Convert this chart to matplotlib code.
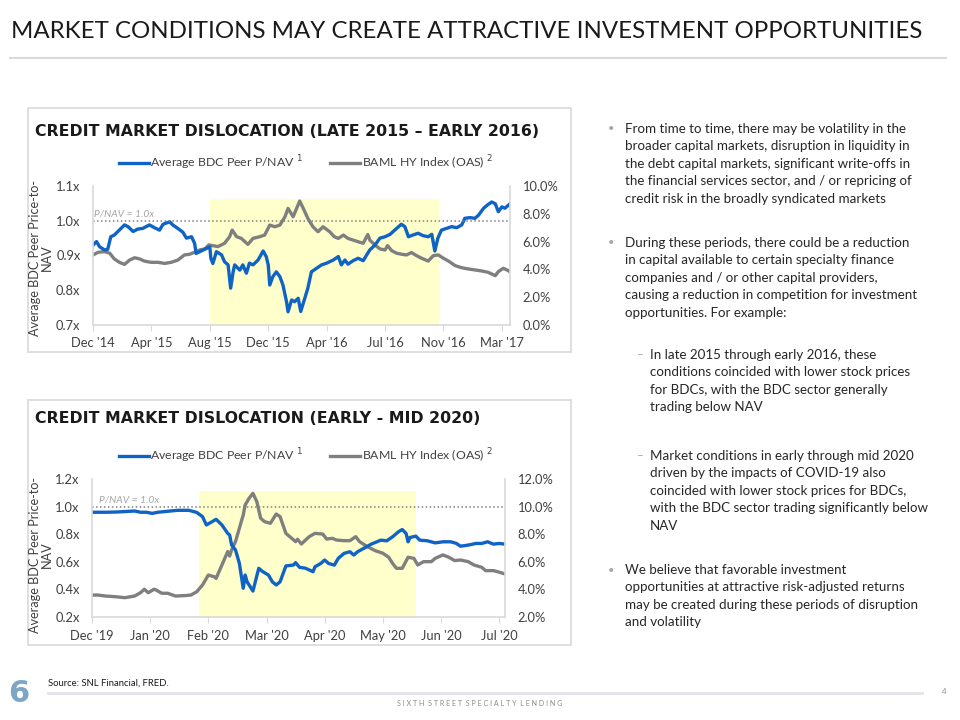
import matplotlib
matplotlib.use("Agg")
import matplotlib.pyplot as plt
import pandas as pd
from matplotlib import font_manager
from matplotlib.lines import Line2D
from matplotlib.patches import Rectangle

names = {f.name for f in font_manager.fontManager.ttflist}
if "Liberation Sans Narrow" in names:
    FONT, K = "Liberation Sans Narrow", 1.0
else:
    FONT, K = "Lato", 0.86
plt.rcParams["font.family"] = [FONT, "DejaVu Sans"]

# ---------------- data: chart 1 (late 2015 - early 2016) ----------------
bdc1_dates = [
    "2014-12-31", "2015-01-07", "2015-01-13", "2015-01-23", "2015-01-29", "2015-02-04",
    "2015-02-11", "2015-02-18", "2015-03-03", "2015-03-10", "2015-03-20", "2015-03-29",
    "2015-04-08", "2015-04-21", "2015-05-01", "2015-05-11", "2015-05-18", "2015-05-31",
    "2015-06-06", "2015-06-16", "2015-06-26", "2015-07-03", "2015-07-13", "2015-07-19",
    "2015-07-22", "2015-07-29", "2015-08-08", "2015-08-18", "2015-08-20", "2015-08-24",
    "2015-08-31", "2015-09-10", "2015-09-16", "2015-09-23", "2015-09-28", "2015-10-03",
    "2015-10-06", "2015-10-16", "2015-10-22", "2015-10-29", "2015-11-04", "2015-11-11",
    "2015-11-21", "2015-12-01", "2015-12-07", "2015-12-11", "2015-12-14", "2015-12-20",
    "2015-12-27", "2016-01-03", "2016-01-09", "2016-01-16", "2016-01-19", "2016-01-26",
    "2016-02-01", "2016-02-08", "2016-02-13", "2016-02-21", "2016-02-27", "2016-03-05",
    "2016-03-15", "2016-03-25", "2016-04-04", "2016-04-17", "2016-04-27", "2016-05-03",
    "2016-05-10", "2016-05-16", "2016-05-26", "2016-06-05", "2016-06-15", "2016-06-22",
    "2016-06-28", "2016-07-08", "2016-07-18", "2016-07-28", "2016-08-07", "2016-08-16",
    "2016-08-29", "2016-09-05", "2016-09-12", "2016-09-21", "2016-10-01", "2016-10-11",
    "2016-10-21", "2016-10-28", "2016-11-03", "2016-11-09", "2016-11-16", "2016-11-26",
    "2016-12-06", "2016-12-16", "2016-12-26", "2017-01-01", "2017-01-11", "2017-01-21",
    "2017-01-28", "2017-02-07", "2017-02-16", "2017-02-23", "2017-03-02", "2017-03-08",
    "2017-03-15", "2017-03-21", "2017-03-31",
]
bdc1 = [
    0.930, 0.940, 0.925, 0.916, 0.918, 0.954,
    0.959, 0.969, 0.988, 0.983, 0.969, 0.976,
    0.978, 0.988, 0.980, 0.973, 0.990, 0.997,
    0.988, 0.978, 0.967, 0.950, 0.954, 0.935,
    0.906, 0.911, 0.918, 0.925, 0.892, 0.877,
    0.911, 0.902, 0.882, 0.873, 0.806, 0.854,
    0.873, 0.858, 0.873, 0.849, 0.878, 0.873,
    0.887, 0.913, 0.897, 0.873, 0.815, 0.839,
    0.853, 0.839, 0.815, 0.767, 0.738, 0.772,
    0.767, 0.777, 0.739, 0.777, 0.806, 0.853,
    0.863, 0.873, 0.878, 0.887, 0.897, 0.873,
    0.887, 0.875, 0.885, 0.892, 0.885, 0.902,
    0.916, 0.930, 0.950, 0.954, 0.961, 0.973,
    0.990, 0.983, 0.954, 0.959, 0.964, 0.957,
    0.954, 0.961, 0.913, 0.950, 0.973, 0.978,
    0.983, 0.980, 0.988, 1.007, 1.009, 1.007,
    1.016, 1.036, 1.047, 1.054, 1.049, 1.026,
    1.040, 1.036, 1.049,
]
hy1_dates = [
    "2014-12-31", "2015-01-10", "2015-01-23", "2015-02-02", "2015-02-11", "2015-02-21",
    "2015-03-03", "2015-03-13", "2015-03-23", "2015-04-02", "2015-04-11", "2015-04-24",
    "2015-05-08", "2015-05-21", "2015-06-03", "2015-06-16", "2015-06-29", "2015-07-09",
    "2015-07-19", "2015-07-29", "2015-08-08", "2015-08-16", "2015-08-24", "2015-09-03",
    "2015-09-16", "2015-09-26", "2015-10-01", "2015-10-10", "2015-10-19", "2015-11-01",
    "2015-11-11", "2015-11-24", "2015-12-04", "2015-12-14", "2015-12-24", "2016-01-03",
    "2016-01-13", "2016-01-19", "2016-01-29", "2016-02-11", "2016-02-18", "2016-02-27",
    "2016-03-08", "2016-03-18", "2016-03-28", "2016-04-10", "2016-04-19", "2016-04-27",
    "2016-05-07", "2016-05-16", "2016-05-26", "2016-06-05", "2016-06-15", "2016-06-20",
    "2016-06-24", "2016-06-28", "2016-07-08", "2016-07-18", "2016-07-28", "2016-08-02",
    "2016-08-10", "2016-08-20", "2016-08-30", "2016-09-08", "2016-09-18", "2016-09-28",
    "2016-10-08", "2016-10-21", "2016-10-31", "2016-11-10", "2016-11-20", "2016-11-30",
    "2016-12-13", "2016-12-26", "2017-01-08", "2017-01-21", "2017-02-03", "2017-02-16",
    "2017-03-02", "2017-03-08", "2017-03-18", "2017-03-25", "2017-03-31",
]
hy1 = [
    5.04, 5.23, 5.28, 5.16, 4.75, 4.51,
    4.36, 4.67, 4.84, 4.75, 4.60, 4.51,
    4.51, 4.43, 4.51, 4.67, 5.04, 5.09,
    5.23, 5.40, 5.47, 5.76, 5.71, 5.64,
    5.88, 6.35, 6.83, 6.35, 6.23, 5.80,
    6.23, 6.35, 6.47, 7.19, 7.07, 7.19,
    7.79, 8.39, 7.79, 8.92, 8.39, 7.67,
    7.07, 6.71, 7.07, 6.71, 6.35, 6.23,
    6.47, 6.23, 6.11, 5.99, 5.88, 6.23,
    6.51, 6.11, 5.76, 5.47, 5.40, 5.71,
    5.35, 5.16, 5.09, 5.04, 5.21, 4.99,
    4.80, 4.60, 4.99, 5.04, 4.80, 4.60,
    4.27, 4.12, 4.03, 3.96, 3.89, 3.79,
    3.55, 3.84, 4.08, 3.96, 3.84,
]
x1_ticks = ["2014-12-31", "2015-04-25", "2015-08-18", "2015-12-11",
            "2016-04-04", "2016-07-28", "2016-11-20", "2017-03-15"]
x1_labels = ["Dec '14", "Apr '15", "Aug '15", "Dec '15", "Apr '16", "Jul '16", "Nov '16", "Mar '17"]
band1 = ["2015-08-18", "2016-11-12"]

# ---------------- data: chart 2 (early - mid 2020) ----------------
bdc2_dates = [
    "2019-12-31", "2020-01-07", "2020-01-13", "2020-01-22", "2020-01-25", "2020-01-28",
    "2020-01-31", "2020-02-03", "2020-02-08", "2020-02-13", "2020-02-19", "2020-02-23",
    "2020-02-26", "2020-02-28", "2020-03-02", "2020-03-04", "2020-03-07", "2020-03-10",
    "2020-03-11", "2020-03-12", "2020-03-14", "2020-03-16", "2020-03-18", "2020-03-19",
    "2020-03-20", "2020-03-23", "2020-03-26", "2020-03-28", "2020-03-31", "2020-04-02",
    "2020-04-04", "2020-04-06", "2020-04-09", "2020-04-13", "2020-04-14", "2020-04-16",
    "2020-04-19", "2020-04-23", "2020-04-24", "2020-04-27", "2020-04-29", "2020-05-01",
    "2020-05-04", "2020-05-06", "2020-05-09", "2020-05-12", "2020-05-14", "2020-05-16",
    "2020-05-20", "2020-05-23", "2020-05-28", "2020-05-31", "2020-06-03", "2020-06-06",
    "2020-06-08", "2020-06-10", "2020-06-11", "2020-06-12", "2020-06-15", "2020-06-17",
    "2020-06-21", "2020-06-25", "2020-06-29", "2020-07-03", "2020-07-06", "2020-07-08",
    "2020-07-12", "2020-07-16", "2020-07-19", "2020-07-22", "2020-07-25", "2020-07-28",
    "2020-07-31",
]
bdc2 = [
    0.959, 0.959, 0.961, 0.968, 0.959, 0.959,
    0.951, 0.959, 0.966, 0.973, 0.973, 0.958,
    0.927, 0.867, 0.891, 0.908, 0.867, 0.806,
    0.794, 0.722, 0.686, 0.589, 0.408, 0.504,
    0.455, 0.388, 0.553, 0.529, 0.504, 0.455,
    0.432, 0.455, 0.570, 0.577, 0.594, 0.560,
    0.554, 0.528, 0.564, 0.588, 0.613, 0.588,
    0.576, 0.625, 0.661, 0.673, 0.649, 0.673,
    0.704, 0.728, 0.757, 0.752, 0.781, 0.817,
    0.834, 0.805, 0.745, 0.776, 0.786, 0.757,
    0.752, 0.737, 0.745, 0.745, 0.733, 0.713,
    0.721, 0.733, 0.733, 0.745, 0.728, 0.733,
    0.728,
]
hy2_dates = [
    "2019-12-31", "2020-01-03", "2020-01-07", "2020-01-12", "2020-01-17", "2020-01-22",
    "2020-01-25", "2020-01-27", "2020-01-29", "2020-02-01", "2020-02-02", "2020-02-05",
    "2020-02-08", "2020-02-12", "2020-02-17", "2020-02-20", "2020-02-23", "2020-02-26",
    "2020-02-29", "2020-03-03", "2020-03-04", "2020-03-07", "2020-03-10", "2020-03-11",
    "2020-03-12", "2020-03-14", "2020-03-16", "2020-03-18", "2020-03-19", "2020-03-21",
    "2020-03-23", "2020-03-25", "2020-03-27", "2020-03-29", "2020-04-01", "2020-04-04",
    "2020-04-06", "2020-04-09", "2020-04-11", "2020-04-14", "2020-04-15", "2020-04-17",
    "2020-04-21", "2020-04-24", "2020-04-28", "2020-04-30", "2020-05-03", "2020-05-05",
    "2020-05-09", "2020-05-12", "2020-05-15", "2020-05-17", "2020-05-21", "2020-05-25",
    "2020-05-29", "2020-06-01", "2020-06-03", "2020-06-05", "2020-06-08", "2020-06-11",
    "2020-06-14", "2020-06-16", "2020-06-19", "2020-06-23", "2020-06-25", "2020-06-29",
    "2020-07-02", "2020-07-05", "2020-07-08", "2020-07-12", "2020-07-15", "2020-07-19",
    "2020-07-21", "2020-07-25", "2020-07-27", "2020-07-31",
]
hy2 = [
    3.59, 3.59, 3.52, 3.47, 3.40, 3.52,
    3.76, 4.01, 3.76, 4.01, 3.96, 3.72,
    3.72, 3.52, 3.55, 3.59, 3.83, 4.32,
    5.04, 4.92, 4.80, 5.77, 6.74, 6.42,
    6.86, 7.46, 8.43, 9.39, 10.12, 10.60,
    10.96, 10.36, 9.15, 8.91, 8.79, 9.46,
    9.27, 8.06, 7.82, 7.46, 7.63, 7.29,
    7.82, 8.06, 8.01, 7.65, 7.70, 7.58,
    7.53, 7.53, 7.82, 7.46, 7.10, 6.81,
    6.62, 6.33, 5.89, 5.53, 5.53, 6.33,
    6.25, 5.77, 6.01, 6.01, 6.25, 6.50,
    6.33, 6.09, 6.13, 6.01, 5.77, 5.60,
    5.36, 5.36, 5.29, 5.12,
]
x2_ticks = ["2019-12-31", "2020-01-30", "2020-02-29", "2020-03-30",
            "2020-04-29", "2020-05-29", "2020-06-28", "2020-07-28"]
x2_labels = ["Dec '19", "Jan '20", "Feb '20", "Mar '20", "Apr '20", "May '20", "Jun '20", "Jul '20"]
band2 = ["2020-02-24", "2020-06-15"]

y1_ticks = [0.7, 0.8, 0.9, 1.0, 1.1]
y1r_ticks = [0, 2, 4, 6, 8, 10]
y2_ticks = [0.2, 0.4, 0.6, 0.8, 1.0, 1.2]
y2r_ticks = [2, 4, 6, 8, 10, 12]

bullets = [
    ("dot", 129, ["From time to time, there may be volatility in the",
                  "broader capital markets, disruption in liquidity in",
                  "the debt capital markets, significant write-offs in",
                  "the financial services sector, and / or repricing of",
                  "credit risk in the broadly syndicated markets"]),
    ("dot", 243, ["During these periods, there could be a reduction",
                  "in capital available to certain specialty finance",
                  "companies and / or other capital providers,",
                  "causing a reduction in competition for investment",
                  "opportunities. For example:"]),
    ("dash", 355, ["In late 2015 through early 2016, these",
                   "conditions coincided with lower stock prices",
                   "for BDCs, with the BDC sector generally",
                   "trading below NAV"]),
    ("dash", 456, ["Market conditions in early through mid 2020",
                   "driven by the impacts of COVID-19 also",
                   "coincided with lower stock prices for BDCs,",
                   "with the BDC sector trading significantly below",
                   "NAV"]),
    ("dot", 570, ["We believe that favorable investment",
                  "opportunities at attractive risk-adjusted returns",
                  "may be created during these periods of disruption",
                  "and volatility"]),
]

# ---------------- styling ----------------
W, H = 960, 720
BLUE = "#0F63C4"
GREY = "#7F7F7F"
YELLOW = "#FFFFCC"
SPINE = "#D9D9D9"
TXT = "#404040"
BODY = "#262626"

fig = plt.figure(figsize=(W / 100, H / 100), dpi=100)


def fx(px):
    return px / W


def fy(py):
    return 1 - py / H


def rect(l, t, r, b):
    return [fx(l), fy(b), fx(r) - fx(l), fy(t) - fy(b)]


def draw_chart(box, title, title_y, ax_px, bdc_d, bdc_v, hy_d, hy_v, xt, xl,
               band, band_top, yt, ylim, y2t, y2lim, legend_y, label_y, nav_dx):
    fig.patches.append(Rectangle((fx(box[0]), fy(box[3])), fx(box[2]) - fx(box[0]),
                                 fy(box[1]) - fy(box[3]), transform=fig.transFigure,
                                 fill=False, ec=SPINE, lw=1.2))
    fig.text(fx(35), fy(title_y), title, fontsize=11.3, fontweight="bold",
             family="DejaVu Sans", color="#1A1A1A", va="center")

    ax = fig.add_axes(rect(*ax_px))
    ax2 = ax.twinx()
    ax.set_zorder(3)
    ax2.set_zorder(2)
    ax.patch.set_visible(False)

    hd = pd.to_datetime(hy_d)
    ax2.plot(hd, hy_v, color=GREY, lw=2.4, solid_joinstyle="round")
    ax2.axvspan(pd.Timestamp(band[0]), pd.Timestamp(band[1]), ymin=0, ymax=band_top,
                color=YELLOW, lw=0, zorder=0)
    ax.plot(pd.to_datetime(bdc_d), bdc_v, color=BLUE, lw=2.4, solid_joinstyle="round")
    ax.axhline(1.0, color="#808080", lw=1.1, ls=(0, (1, 1.6)))
    ax.annotate("P/NAV = 1.0x", xy=(0, 1.0), xycoords=("axes fraction", "data"),
                xytext=(nav_dx, 1.5), textcoords="offset points", fontsize=8.6 * K,
                style="italic", color="#A6A6A6", va="bottom")

    xdt = pd.to_datetime(xt)
    ax.set_xlim(xdt[0], pd.Timestamp(hy_d[-1]))
    ax.set_xticks(xdt)
    ax.set_xticklabels(xl)
    ax.set_ylim(*ylim)
    ax.set_yticks(yt)
    ax.set_yticklabels([f"{v:.1f}x" for v in yt])
    ax2.set_ylim(*y2lim)
    ax2.set_yticks(y2t)
    ax2.set_yticklabels([f"{v:.1f}%" for v in y2t])

    ax.tick_params(axis="x", length=4, color=SPINE, labelsize=10.8 * K, labelcolor=TXT, pad=5)
    ax.tick_params(axis="y", length=0, labelsize=10.8 * K, labelcolor=TXT, pad=9)
    ax2.tick_params(axis="y", length=0, labelsize=10.8 * K, labelcolor=TXT, pad=9)
    for s in ["left", "bottom", "right"]:
        ax.spines[s].set_color(SPINE)
        ax.spines[s].set_linewidth(1.2)
    ax.spines["top"].set_visible(False)
    for s in ax2.spines.values():
        s.set_visible(False)

    handles = [Line2D([], [], color=BLUE, lw=2.4), Line2D([], [], color=GREY, lw=2.4)]
    labels = [r"Average BDC Peer P/NAV $^{1}$", r"BAML HY Index (OAS) $^{2}$"]
    fig.legend(handles, labels, loc="center", bbox_to_anchor=(fx(306), fy(legend_y)),
               ncol=2, frameon=False, fontsize=10.3 * K, handlelength=2.4,
               handletextpad=0.15, columnspacing=2.2, labelcolor=TXT)

    fig.text(fx(41), fy(label_y), "Average BDC Peer Price-to-\nNAV", rotation=90,
             ha="center", va="center", multialignment="center", fontsize=10.6 * K,
             color=TXT, linespacing=1.0)


draw_chart((28, 108, 571, 352), "CREDIT MARKET DISLOCATION (LATE 2015 \u2013 EARLY 2016)", 131,
           (93, 186, 510, 325), bdc1_dates, bdc1, hy1_dates, hy1, x1_ticks, x1_labels,
           band1, 0.906, y1_ticks, (0.7, 1.1), y1r_ticks, (0, 10), 163, 258, 1)
draw_chart((28, 400, 571, 645), "CREDIT MARKET DISLOCATION (EARLY - MID 2020)", 418,
           (92, 479, 505, 617), bdc2_dates, bdc2, hy2_dates, hy2, x2_ticks, x2_labels,
           band2, 0.913, y2_ticks, (0.2, 1.2), y2r_ticks, (2, 12), 456, 555, 5)

# ---------------- slide text ----------------
fig.text(fx(11), fy(31), "MARKET CONDITIONS MAY CREATE ATTRACTIVE INVESTMENT OPPORTUNITIES",
         fontsize=17.3, color="#1A1A1A", va="center")
fig.add_artist(Line2D([fx(10), fx(946)], [fy(58), fy(58)], color=SPINE, lw=1.5))

for kind, y0, lines in bullets:
    if kind == "dot":
        fig.text(fx(611), fy(y0), "\u2022", fontsize=8, color="#A6A6A6", va="center", ha="center")
        tx = 625
    else:
        fig.text(fx(640), fy(y0), "\u2013", fontsize=10 * K, color="#A6A6A6", va="center", ha="center")
        tx = 650
    for i, line in enumerate(lines):
        fig.text(fx(tx), fy(y0 + i * 17.4), line, fontsize=11.2 * K, color=BODY, va="center")

# footer
fig.text(fx(19), fy(693), "6", fontsize=22, fontweight="bold", color="#7DA5C6",
         ha="center", va="center", family="DejaVu Sans")
fig.text(fx(48), fy(683), "Source: SNL Financial, FRED.", fontsize=8 * K, color="#1A1A1A",
         va="center")
fig.add_artist(Line2D([fx(48), fx(922)], [fy(693), fy(693)], color="#E1E4EA", lw=2))
fig.text(fx(480), fy(703), "  ".join(" ".join(w) for w in "SIXTH STREET SPECIALTY LENDING".split()),
         fontsize=6 * K, color="#8C8C8C", ha="center", va="center")
fig.text(fx(944), fy(692), "4", fontsize=6.5 * K, color="#8C8C8C", ha="center", va="center")

fig.savefig("out.png", dpi=100, facecolor="white")
